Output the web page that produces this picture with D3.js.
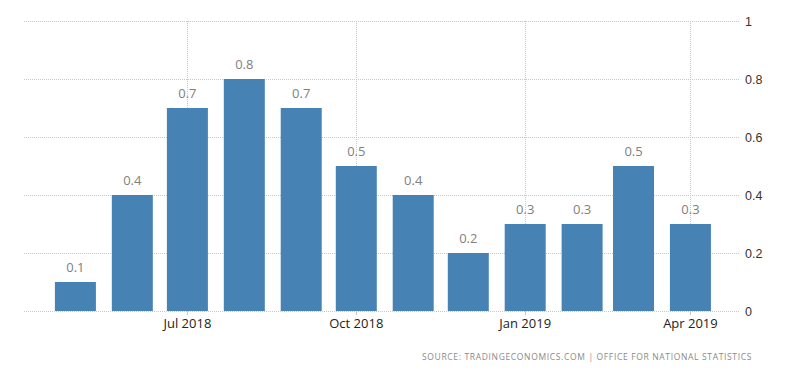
<!DOCTYPE html>
<html>
<head>
<meta charset="utf-8">
<script src="https://cdn.jsdelivr.net/npm/d3@7"></script>
<style>
  body { margin: 0; background: #fff; }
  svg { display: block; }
  .grid line { stroke: #c8c8c8; stroke-dasharray: 1,1; }
  .value-label { font-family: "Open Sans", sans-serif; font-size: 13px; fill: #808080; }
  .x-label { font-family: "Open Sans", sans-serif; font-size: 13px; fill: #222; }
  .y-label { font-family: "Liberation Sans", Arial, sans-serif; font-size: 12.5px; fill: #333; }
  .source { font-family: "Open Sans", sans-serif; font-size: 8.5px; fill: #8a8a8a; letter-spacing: 0.6px; }
</style>
</head>
<body>
<script>
const width = 800;
const height = 373;

const months = ['2018-05', '2018-06', '2018-07', '2018-08', '2018-09', '2018-10',
  '2018-11', '2018-12', '2019-01', '2019-02', '2019-03', '2019-04'];
const values = [0.1, 0.4, 0.7, 0.8, 0.7, 0.5, 0.4, 0.2, 0.3, 0.3, 0.5, 0.3];
const xTicks = ['2018-07', '2018-10', '2019-01', '2019-04'];
const yTicks = [0, 0.2, 0.4, 0.6, 0.8, 1];

const parse = d3.timeParse('%Y-%m');

const svg = d3.select('body').append('svg')
  .attr('width', width)
  .attr('height', height);

const xScale = d3.scaleTime()
  .domain([new Date(2018, 3, 3), new Date(2019, 3, 28)])
  .range([24, 740]);

const yScale = d3.scaleLinear()
  .domain([0, 1])
  .range([311, 21]);

const barWidth = 41;

// horizontal grid
svg.append('g').attr('class', 'grid')
  .selectAll('line')
  .data(yTicks)
  .enter()
  .append('line')
  .attr('x1', 24)
  .attr('x2', 740)
  .attr('y1', d => Math.round(yScale(d)) + 0.5)
  .attr('y2', d => Math.round(yScale(d)) + 0.5);

// vertical grid at date ticks
svg.append('g').attr('class', 'grid')
  .selectAll('line')
  .data(xTicks)
  .enter()
  .append('line')
  .attr('x1', d => Math.round(xScale(parse(d))) + 0.5)
  .attr('x2', d => Math.round(xScale(parse(d))) + 0.5)
  .attr('y1', yScale(1))
  .attr('y2', yScale(0));

svg.selectAll('rect.bar')
  .data(values)
  .enter()
  .append('rect')
  .attr('class', 'bar')
  .style('fill', '#4682b4')
  .attr('x', (d, i) => xScale(parse(months[i])) - barWidth / 2)
  .attr('width', barWidth)
  .attr('y', d => yScale(d))
  .attr('height', d => yScale(0) - yScale(d));

svg.selectAll('text.value-label')
  .data(values)
  .enter()
  .append('text')
  .attr('class', 'value-label')
  .text(d => d)
  .attr('x', (d, i) => xScale(parse(months[i])))
  .attr('y', d => yScale(d) - 10)
  .attr('text-anchor', 'middle');

// x axis tick marks and labels
const fmt = d3.timeFormat('%b %Y');
svg.append('g')
  .selectAll('line')
  .data(xTicks)
  .enter()
  .append('line')
  .attr('x1', d => Math.round(xScale(parse(d))) + 0.5)
  .attr('x2', d => Math.round(xScale(parse(d))) + 0.5)
  .attr('y1', yScale(0))
  .attr('y2', yScale(0) + 4)
  .style('stroke', '#c8c8c8');

svg.selectAll('text.x-label')
  .data(xTicks)
  .enter()
  .append('text')
  .attr('class', 'x-label')
  .text(d => fmt(parse(d)))
  .attr('x', d => xScale(parse(d)))
  .attr('y', 328)
  .attr('text-anchor', 'middle');

svg.selectAll('text.y-label')
  .data(yTicks)
  .enter()
  .append('text')
  .attr('class', 'y-label')
  .text(d => d)
  .attr('x', 745)
  .attr('y', d => yScale(d) + 4.5)
  .attr('text-anchor', 'start');

svg.append('text')
  .attr('class', 'source')
  .text('SOURCE: TRADINGECONOMICS.COM  |  OFFICE FOR NATIONAL STATISTICS')
  .attr('x', 422)
  .attr('y', 360)
  .attr('textLength', 330)
  .attr('lengthAdjust', 'spacing');
</script>
</body>
</html>
